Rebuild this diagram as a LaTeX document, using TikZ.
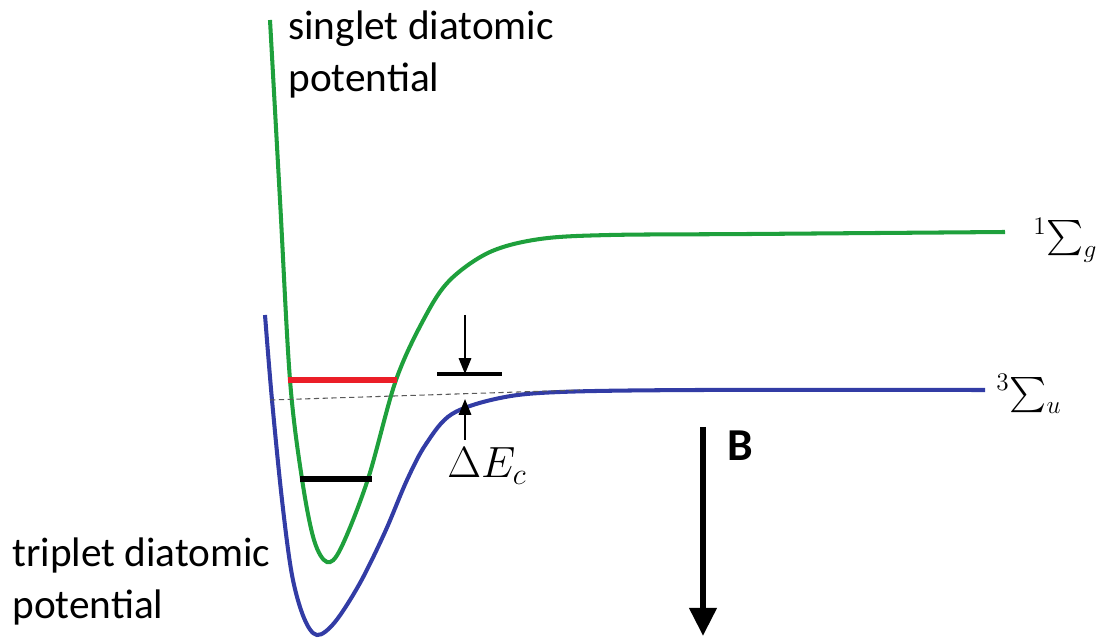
\documentclass[tikz,border=0pt]{standalone}
\usepackage{amsmath,amssymb}
\usepackage{fontspec}
\setmainfont{Carlito}
\usepackage{tikz}
\usetikzlibrary{arrows.meta}
\definecolor{singletgreen}{RGB}{30,160,60}
\definecolor{tripletblue}{RGB}{50,60,165}
\definecolor{levelred}{RGB}{235,30,40}

\begin{document}
\begin{tikzpicture}[x=0.02cm, y=-0.02cm, every node/.style={font=\fontsize{23.5}{30}\selectfont, inner sep=0pt},
  curve/.style={line width=2.3pt, smooth, tension=0.55},
  term/.style={anchor=west, font=\fontsize{20}{24}\selectfont}]
\useasboundingbox (0,0) rectangle (1100,638);
% potentials
\draw[curve, singletgreen] plot coordinates {(270,20) (280,200) (290,380) (302,479) (314,540) (327,562) (341,548) (368,479) (396,380) (425,317) (450,280) (490,252) (540,239) (610,235) (750,234) (1005,232)};
\draw[curve, tripletblue] plot coordinates {(265,315) (272,400) (282,500) (292,575) (304,618) (317,635) (335,622) (360,583) (385,532) (407,480) (426,444) (452,414) (500,398) (560,392) (700,390) (985,390)};
% levels
\draw[levelred, line width=3pt] (288,380) -- (397,380);
\draw[line width=3pt] (300,479) -- (372,479);
\draw[densely dashed, gray!70!black, line width=0.6pt] (270,400) -- (580,390);
% Delta E_c
\coordinate (dtop) at (465,315);
\coordinate (dbar) at (465,374);
\coordinate (ubot) at (465,440);
\coordinate (utop) at (465,399);
\draw[line width=1.2pt, -{Triangle[length=9pt,width=7pt]}] (dtop) -- (dbar);
\draw[line width=2pt] (437,374) -- (502,374);
\draw[line width=1.2pt, -{Triangle[length=9pt,width=7pt]}] (ubot) -- (utop);
\node (dE) at (487,466) {$\Delta E_c$};
% field
\coordinate (btop) at (703,427);
\coordinate (bbot) at (703,636);
\draw[line width=3.5pt, -{Triangle[length=16pt,width=15pt]}] (btop) -- (bbot);
\node[font=\fontsize{26}{30}\selectfont\bfseries] (B) at (740,446) {B};
% labels
\node[anchor=north west, align=left] (singlet) at (288,10) {singlet diatomic\\potential};
\node[anchor=north west, align=left] (triplet) at (12,537) {triplet diatomic\\potential};
\node[term] (sg) at (1033,240) {$^{1}\!\textstyle\sum_{g}$};
\node[term] (su) at (996,394) {$^{3}\!\textstyle\sum_{u}$};
\end{tikzpicture}
\end{document}
